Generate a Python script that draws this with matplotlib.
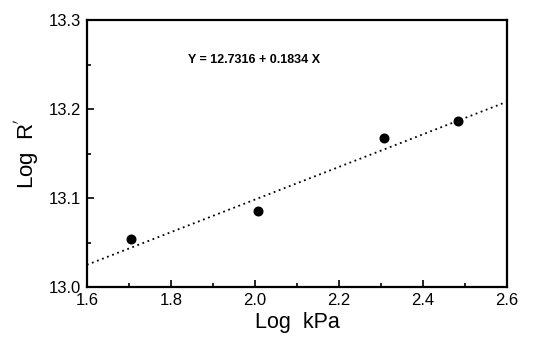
import matplotlib
matplotlib.use("Agg")
import matplotlib.pyplot as plt
import numpy as np
from matplotlib.ticker import MultipleLocator

plt.rcParams["font.family"] = ["Liberation Sans", "DejaVu Sans"]

# measured points
log_kpa = [1.706, 2.006, 2.307, 2.483]
log_r = [13.054, 13.086, 13.168, 13.187]

# linear fit shown on the chart
intercept = 12.7316
slope = 0.1834
fit_x = np.array([1.6, 2.6])

xticks = [1.6, 1.8, 2.0, 2.2, 2.4, 2.6]
yticks = [13.0, 13.1, 13.2, 13.3]

fig = plt.figure(figsize=(5.43, 3.41), dpi=100)
ax = fig.add_axes([0.160, 0.158, 0.774, 0.783])

ax.plot(fit_x, intercept + slope * fit_x, color="black", linestyle=(0, (1, 2)),
        linewidth=1.3)
ax.plot(log_kpa, log_r, "o", color="black", markersize=6.2)

ax.text(0.24, 0.85, "Y = 12.7316 + 0.1834 X", transform=ax.transAxes,
        fontsize=9, fontweight="bold", va="center")

ax.set_xlim(1.6, 2.6)
ax.set_ylim(13.0, 13.3)
ax.xaxis.set_minor_locator(MultipleLocator(0.1))
ax.yaxis.set_minor_locator(MultipleLocator(0.05))
ax.set_xticks(xticks)
ax.set_xticklabels([f"{v:.1f}" for v in xticks])
ax.set_yticks(yticks)
ax.set_yticklabels([f"{v:.1f}" for v in yticks])

ax.tick_params(which="both", direction="in", top=False, right=False,
               labelsize=12, width=1.2)
ax.tick_params(axis="x", pad=4)
ax.tick_params(axis="y", pad=4)
ax.tick_params(which="major", length=5)
ax.tick_params(which="minor", length=3)
for s in ax.spines.values():
    s.set_linewidth(1.6)

ax.set_xlabel("Log  kPa", fontsize=15.5, labelpad=3)
ax.set_ylabel("Log  R$^{'}$", fontsize=16, labelpad=6)

fig.savefig("out.png", dpi=100)
